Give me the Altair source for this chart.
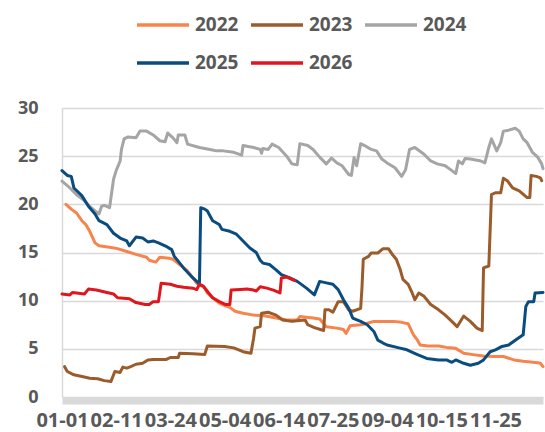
import altair as alt
import pandas as pd

# Day-of-year (0 = 01-01) and value for each year's series
days_2022 = [3, 7, 11, 15, 18, 21, 25, 28, 36, 42, 49, 56, 64, 66, 71, 74, 81, 84, 89, 94, 99, 102, 104, 108,
             110, 114, 119, 123, 127, 131, 137, 145, 152, 160, 170, 178, 180, 190, 195, 200, 208, 213, 215, 218,
             226, 231, 236, 244, 251, 257, 262, 266, 269, 271, 277, 285, 291, 298, 304, 311, 319, 327, 334, 342,
             349, 360, 362, 364]
vals_2022 = [20.0, 19.5, 19.1, 18.3, 17.9, 17.2, 16.0, 15.7, 15.55, 15.4, 15.1, 14.8, 14.5, 14.2, 14.0, 14.5,
             14.4, 14.3, 13.75, 13.2, 12.4, 11.8, 11.7, 11.3, 10.8, 10.3, 9.75, 9.5, 9.3, 8.9, 8.7, 8.5, 8.45,
             8.25, 8.0, 8.0, 8.35, 8.2, 8.1, 7.3, 7.15, 7.0, 6.6, 7.4, 7.5, 7.65, 7.85, 7.85, 7.85, 7.75, 7.6,
             6.45, 5.9, 5.4, 5.3, 5.3, 5.15, 5.05, 4.55, 4.4, 4.25, 4.2, 4.2, 3.85, 3.7, 3.55, 3.5, 3.15]

days_2023 = [2, 4, 9, 16, 21, 27, 32, 37, 40, 44, 46, 49, 52, 56, 61, 65, 69, 79, 82, 88, 89, 99, 108, 110,
             123, 130, 137, 143, 145, 146, 150, 151, 156, 162, 167, 174, 180, 184, 186, 191, 198, 199, 202, 205,
             209, 213, 217, 220, 226, 227, 228, 232, 234, 239, 243, 247, 250, 253, 256, 258, 262, 265, 267, 270,
             274, 279, 285, 290, 295, 299, 304, 309, 314, 318, 319, 323, 325, 328, 332, 334, 337, 341, 346, 352,
             354, 355, 359, 362, 363]
vals_2023 = [3.15, 2.65, 2.3, 2.1, 1.95, 1.9, 1.7, 1.6, 2.65, 2.55, 3.1, 3.0, 3.15, 3.4, 3.5, 3.85, 3.9, 3.9,
             4.1, 4.1, 4.55, 4.5, 4.4, 5.3, 5.25, 5.1, 4.7, 4.55, 6.1, 7.15, 7.3, 8.7, 8.8, 8.5, 8.0, 7.85, 7.95,
             8.0, 7.5, 7.2, 6.9, 9.05, 9.05, 8.8, 9.9, 9.9, 9.05, 8.9, 9.2, 11.3, 14.3, 14.6, 14.95, 14.95, 15.4,
             15.4, 14.8, 14.3, 13.2, 12.2, 11.7, 10.8, 10.1, 10.8, 10.45, 9.6, 9.05, 8.5, 7.85, 7.3, 8.4, 7.85,
             7.15, 6.9, 13.4, 13.6, 21.0, 21.2, 21.2, 22.7, 22.45, 21.7, 21.4, 20.7, 20.7, 23.0, 22.9, 22.75,
             22.45]

days_2024 = [0, 6, 11, 16, 21, 26, 28, 30, 32, 36, 39, 41, 44, 45, 47, 50, 56, 59, 64, 69, 74, 78, 80, 84, 87,
             88, 93, 95, 104, 112, 117, 122, 130, 136, 137, 145, 150, 151, 152, 156, 159, 164, 170, 174, 178, 180,
             186, 190, 195, 200, 204, 208, 212, 217, 219, 221, 223, 226, 229, 234, 238, 242, 246, 252, 257, 260,
             263, 267, 274, 279, 284, 290, 294, 298, 300, 303, 305, 309, 317, 320, 323, 325, 329, 332, 334, 338,
             343, 346, 349, 352, 356, 360, 363, 364]
vals_2024 = [22.4, 21.7, 21.0, 20.5, 19.8, 19.2, 19.0, 19.8, 19.9, 19.65, 22.6, 23.5, 24.5, 25.7, 26.8, 27.0,
             26.9, 27.6, 27.6, 27.2, 26.6, 26.5, 27.4, 26.9, 26.4, 27.2, 27.2, 26.25, 25.9, 25.7, 25.55, 25.55,
             25.4, 25.1, 26.1, 25.9, 25.7, 25.3, 25.8, 25.7, 26.25, 25.9, 25.0, 24.2, 24.1, 26.3, 26.1, 25.7, 24.9,
             24.2, 24.8, 24.3, 24.0, 23.1, 23.0, 24.85, 24.0, 26.3, 26.1, 25.7, 25.55, 24.7, 24.3, 23.8, 22.9,
             23.6, 25.7, 25.9, 25.2, 24.5, 24.2, 24.0, 23.6, 23.2, 24.5, 24.2, 24.75, 24.7, 24.5, 24.3, 25.9, 26.8,
             25.55, 26.4, 27.6, 27.7, 27.9, 27.6, 26.8, 26.4, 25.4, 24.9, 24.2, 23.7]

days_2025 = [0, 4, 7, 9, 15, 20, 25, 28, 34, 39, 44, 49, 51, 56, 61, 65, 69, 73, 78, 83, 85, 92, 98, 102, 104,
             105, 108, 110, 114, 119, 121, 127, 132, 137, 142, 147, 150, 152, 157, 162, 166, 172, 178, 185, 191,
             195, 200, 205, 209, 213, 217, 220, 226, 231, 236, 239, 243, 246, 255, 261, 269, 276, 285, 291, 295,
             298, 304, 309, 315, 319, 324, 328, 333, 338, 343, 349, 351, 353, 357, 358, 364]
vals_2025 = [23.5, 23.0, 22.9, 21.7, 20.9, 19.8, 19.0, 18.3, 17.9, 17.0, 16.5, 16.2, 15.7, 16.6, 16.5, 16.1,
             16.2, 16.0, 15.7, 15.3, 14.6, 13.4, 12.5, 12.0, 11.7, 19.65, 19.5, 19.3, 18.3, 17.9, 17.4, 17.2,
             16.9, 16.2, 15.5, 15.0, 14.2, 13.9, 13.75, 13.2, 12.7, 12.4, 12.0, 11.3, 10.6, 12.0, 11.85, 11.7,
             11.15, 10.1, 9.2, 8.2, 7.85, 7.5, 6.8, 5.9, 5.6, 5.4, 5.1, 4.9, 4.4, 4.0, 3.85, 3.85, 3.6, 3.85, 3.5,
             3.3, 3.5, 3.85, 4.7, 4.9, 5.25, 5.4, 5.9, 6.45, 9.4, 9.9, 9.9, 10.8, 10.85]

days_2026 = [0, 6, 8, 17, 20, 26, 34, 39, 42, 51, 56, 63, 66, 69, 73, 75, 82, 87, 92, 99, 102, 104, 107, 111,
             114, 119, 124, 127, 128, 135, 140, 145, 147, 150, 155, 160, 165, 166, 170, 174, 176]
vals_2026 = [10.7, 10.6, 10.85, 10.7, 11.2, 11.1, 10.85, 10.7, 10.3, 10.2, 9.8, 9.6, 9.6, 9.9, 9.9, 11.8, 11.7,
             11.5, 11.4, 11.3, 11.15, 11.7, 11.5, 10.8, 10.3, 9.9, 9.6, 9.6, 11.1, 11.15, 11.2, 11.1, 11.0, 11.45,
             11.3, 11.1, 10.8, 12.35, 12.45, 12.2, 12.1]

years = ["2022", "2023", "2024", "2025", "2026"]
colors = ["#F7844D", "#9C5B2A", "#A5A5A5", "#0B4C7F", "#E0161E"]
# legend grid fills column by column: 2022/2025, 2023/2026, 2024
legend_order = ["2022", "2025", "2023", "2026", "2024"]
tick_days = [0, 41, 82, 123, 164, 205, 246, 287, 328]
tick_labels = ["01-01", "02-11", "03-24", "05-04", "06-14", "07-25", "09-04", "10-15", "11-25"]

series = {
    "2022": (days_2022, vals_2022),
    "2023": (days_2023, vals_2023),
    "2024": (days_2024, vals_2024),
    "2025": (days_2025, vals_2025),
    "2026": (days_2026, vals_2026),
}
df = pd.concat(
    [pd.DataFrame({"day": d, "value": v, "year": y}) for y, (d, v) in series.items()],
    ignore_index=True,
)

label_lookup = "[" + ",".join(f"'{t}'" for t in tick_labels) + "]"
font = "Open Sans"
text_color = "#595959"
grid_color = "#D9D9D9"

chart = (
    alt.Chart(df)
    .mark_line(strokeWidth=3, strokeCap="round", strokeJoin="round")
    .encode(
        x=alt.X(
            "day:Q",
            scale=alt.Scale(domain=[0, 364], nice=False, zero=False),
            axis=alt.Axis(
                title=None,
                values=tick_days,
                labelExpr=f"{label_lookup}[round(datum.value / 41)]",
                grid=False,
                ticks=False,
                domainColor=grid_color,
                domainWidth=7,
                offset=3.5,
                labelFont=font,
                labelFontSize=20,
                labelFontWeight="bold",
                labelColor=text_color,
                labelPadding=10,
                labelOverlap=False,
                labelFlush=False,
                labelBound=False,
            ),
        ),
        y=alt.Y(
            "value:Q",
            scale=alt.Scale(domain=[0, 30], nice=False),
            axis=alt.Axis(
                title=None,
                values=[0, 5, 10, 15, 20, 25, 30],
                grid=True,
                gridColor=grid_color,
                gridWidth=1.5,
                ticks=False,
                domainColor=grid_color,
                domainWidth=1.5,
                labelFont=font,
                labelFontSize=18,
                labelFontWeight="bold",
                labelColor=text_color,
                labelPadding=24,
            ),
        ),
        color=alt.Color(
            "year:N",
            scale=alt.Scale(domain=years, range=colors),
            legend=alt.Legend(
                title=None,
                values=legend_order,
                orient="none",
                legendX=73,
                legendY=-111,
                columns=3,
                symbolType="stroke",
                symbolSize=2704,
                symbolStrokeWidth=3.5,
                labelFont=font,
                labelFontSize=19,
                labelFontWeight="bold",
                labelColor=text_color,
                labelOffset=4,
                columnPadding=5,
                rowPadding=-13,
                padding=0,
            ),
        ),
    )
    .properties(
        width=481,
        height=289,
        autosize=alt.AutoSizeParams(type="none"),
        padding={"left": 62, "top": 108, "right": 2, "bottom": 35},
    )
    .configure_view(stroke=None)
)

chart.save("out.html", embed_options={"renderer": "svg", "actions": False})
